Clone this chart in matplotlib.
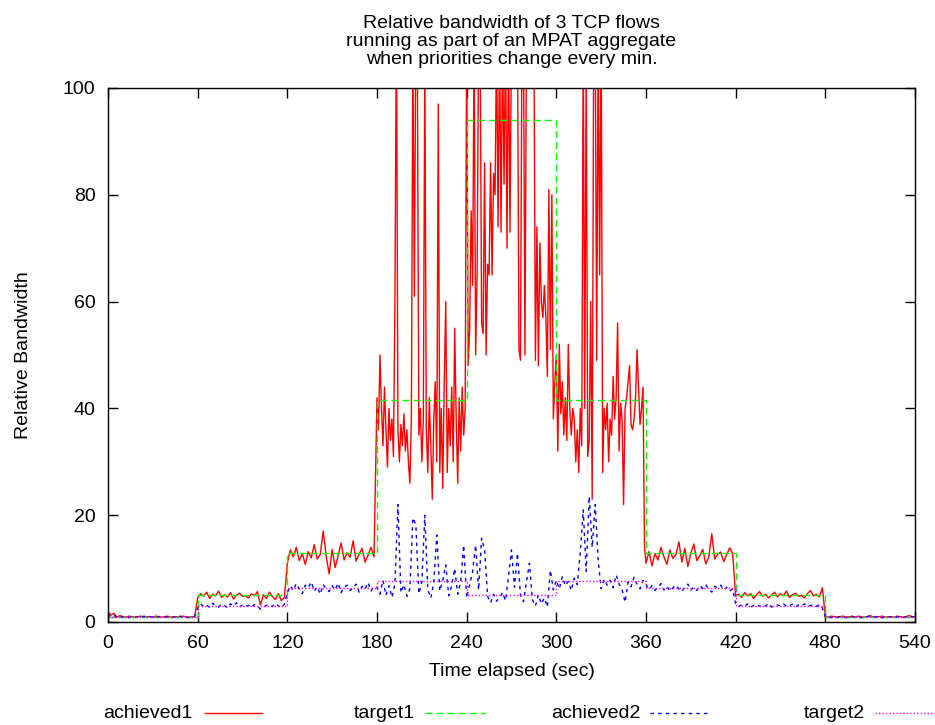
#!/usr/bin/env python3

import numpy as np
import matplotlib
matplotlib.use('Agg')
import matplotlib.pyplot as plt
from matplotlib.lines import Line2D

plt.rcParams['font.family'] = ['Liberation Sans', 'DejaVu Sans']

phase_edges = [0, 60, 120, 180, 240, 300, 360, 420, 480, 540]

# achieved1: one list per 60 s phase; 2 s samples in calm phases, 1 s in the busy middle
ach1_steps = [2, 2, 2, 1, 1, 1, 2, 2, 2]
ach1_phases = [
    [1.9, 1.3, 1.6, 0.9, 1.2, 1.0, 0.9, 1.1, 1.0, 0.9, 1.0, 1.1, 0.9, 1.0, 1.0,
     0.9, 1.1, 1.0, 0.9, 1.0, 1.1, 0.9, 1.0, 1.0, 0.9, 1.1, 1.0, 0.9, 1.0, 1.0],
    [4.5, 5.3, 4.8, 5.6, 4.4, 5.2, 4.9, 5.8, 4.6, 5.1, 4.7, 5.5, 4.3, 5.0, 5.4,
     4.8, 4.9, 4.5, 5.3, 4.9, 5.7, 3.2, 5.1, 4.4, 5.6, 4.8, 4.2, 5.3, 4.0, 4.6],
    [11.0, 13.5, 12.2, 14.0, 11.5, 12.8, 10.8, 13.2, 12.0, 14.5, 11.8, 12.6, 17.0, 12.3, 9.0,
     13.6, 10.2, 12.4, 14.8, 11.6, 13.0, 12.1, 15.2, 11.4, 12.7, 13.8, 11.2, 12.5, 14.0, 12.2],
    [42, 36, 50, 40, 33, 44, 36, 29, 40, 34, 38, 31, 60, 115, 36,
     30, 37, 33, 39, 32, 36, 30, 26, 38, 108, 61, 112, 105, 35, 40,
     30, 38, 105, 36, 28, 42, 33, 23, 38, 45, 30, 97, 28, 40, 25,
     45, 60, 28, 40, 33, 44, 30, 55, 38, 26, 42, 32, 44, 35, 40],
    [110, 48, 55, 77, 63, 110, 50, 65, 110, 110, 56, 54, 86, 50, 67,
     65, 86, 65, 84, 80, 110, 74, 110, 73, 110, 82, 110, 70, 110, 73,
     110, 115, 108, 112, 110, 51, 49, 110, 110, 50, 110, 112, 108, 115, 110,
     110, 49, 74, 48, 71, 60, 57, 63, 57, 46, 81, 51, 80, 38, 45],
    [50, 32, 52, 39, 45, 35, 42, 34, 52, 40, 35, 40, 38, 30, 36,
     28, 40, 33, 110, 40, 105, 31, 34, 60, 23, 110, 112, 49, 110, 65,
     112, 28, 40, 36, 41, 30, 38, 35, 46, 38, 42, 56, 32, 41, 38,
     22, 40, 42, 45, 48, 37, 36, 38, 42, 51, 44, 37, 40, 44, 14],
    [11.0, 13.2, 10.5, 12.8, 11.6, 14.0, 12.2, 10.8, 13.5, 11.9, 12.6, 15.0, 11.2, 13.8, 10.4,
     12.9, 14.6, 11.5, 12.4, 13.6, 10.9, 12.2, 16.5, 11.8, 12.7, 13.1, 11.3, 12.6, 13.9, 12.8],
    [4.8, 5.2, 4.6, 5.5, 4.9, 5.3, 4.4, 5.1, 5.7, 4.8, 5.2, 4.5, 5.0, 5.6, 4.7,
     5.3, 4.9, 5.8, 4.6, 5.1, 5.4, 4.8, 5.0, 4.5, 5.3, 5.9, 4.9, 5.2, 4.7, 6.4],
    [1.0, 0.9, 1.1, 1.0, 0.9, 1.0, 1.1, 0.9, 1.0, 1.0, 0.9, 1.1, 1.0, 0.9, 1.0,
     1.2, 0.9, 1.0, 1.0, 1.1, 0.9, 1.0, 1.0, 0.9, 1.1, 1.0, 0.9, 1.0, 1.2, 1.0, 1.0],
]

# achieved2: 2 s samples throughout
ach2_step = 2
ach2_phases = [
    [1.5, 0.9, 1.2, 0.8, 1.0, 0.9, 1.1, 0.8, 1.0, 0.9, 1.0, 0.8, 1.1, 0.9, 1.0,
     0.9, 0.8, 1.0, 1.1, 0.9, 1.0, 0.8, 0.9, 1.0, 1.1, 0.9, 1.0, 0.8, 0.9, 1.0],
    [2.6, 3.4, 2.9, 3.2, 2.7, 3.5, 3.0, 2.8, 3.3, 3.1, 2.6, 3.4, 3.0, 3.6, 2.8,
     3.2, 2.9, 3.1, 2.7, 3.3, 3.0, 2.4, 2.8, 3.1, 3.2, 2.9, 3.5, 3.0, 2.7, 3.3],
    [5.4, 6.8, 5.9, 7.2, 6.1, 5.3, 6.9, 6.4, 7.5, 5.8, 6.6, 5.2, 7.0, 6.2, 5.7,
     6.8, 6.0, 7.3, 5.5, 6.5, 6.9, 5.9, 6.3, 7.1, 5.6, 6.7, 6.1, 7.4, 5.8, 6.6],
    [6.5, 5.2, 7.8, 5.0, 6.8, 4.6, 7.2, 22.0, 5.5, 7.0, 4.8, 6.2, 19.5, 18.2, 5.3,
     7.5, 20.0, 6.0, 4.5, 7.4, 16.3, 5.8, 7.8, 10.7, 4.9, 6.8, 10.0, 5.2, 7.5, 14.4],
    [4.5, 7.0, 9.5, 14.4, 6.0, 15.7, 13.5, 4.8, 3.6, 5.2, 3.9, 4.6, 5.5, 4.0, 8.5,
     13.5, 6.5, 12.9, 5.0, 3.8, 7.5, 11.0, 4.2, 3.0, 5.1, 3.4, 4.5, 2.8, 9.7, 6.0],
    [7.8, 6.2, 8.5, 6.8, 7.6, 5.9, 8.2, 7.0, 13.0, 21.0, 9.5, 23.5, 14.0, 22.0, 11.5,
     6.2, 8.0, 6.9, 7.8, 6.4, 8.8, 7.1, 6.0, 3.7, 7.5, 6.6, 8.4, 7.0, 6.2, 7.8],
    [7.0, 6.1, 6.8, 5.9, 6.5, 7.2, 6.0, 6.7, 5.8, 6.4, 6.9, 6.2, 5.7, 6.6, 7.1,
     6.0, 6.5, 5.9, 6.8, 6.3, 7.0, 6.1, 5.6, 6.7, 6.4, 6.9, 6.0, 6.5, 5.8, 6.2],
    [3.3, 2.9, 3.2, 3.0, 3.4, 2.8, 3.1, 3.3, 2.9, 3.2, 3.0, 3.5, 2.8, 3.1, 3.2,
     3.0, 3.4, 2.9, 3.1, 3.3, 2.8, 3.2, 3.0, 3.4, 2.9, 3.1, 3.2, 2.9, 3.3, 2.6],
    [0.9, 1.0, 0.8, 1.1, 0.9, 1.0, 0.9, 0.8, 1.0, 1.1, 0.9, 1.0, 0.8, 0.9, 1.0,
     1.1, 0.9, 1.0, 0.9, 0.8, 1.0, 1.0, 0.9, 1.1, 0.9, 1.0, 0.8, 1.0, 1.1, 0.9, 1.0],
]

target1 = [1.0, 5.0, 12.9, 41.5, 94.0, 41.5, 12.9, 5.0, 1.0]
target2 = [0.9, 3.0, 6.3, 7.6, 5.1, 7.6, 6.3, 3.0, 0.9]

xticks = np.arange(0, 541, 60)
yticks = np.arange(0, 101, 20)

t1 = np.concatenate([start + np.arange(len(v)) * dt
                     for start, dt, v in zip(phase_edges, ach1_steps, ach1_phases)])
achieved1 = np.concatenate(ach1_phases)
achieved2 = np.concatenate(ach2_phases)
t2 = np.arange(len(achieved2)) * ach2_step

fig = plt.figure(figsize=(9.35, 7.25), dpi=100)
ax = fig.add_axes([108 / 935, 1 - 622 / 725, (915 - 108) / 935, (622 - 88) / 725])

fs = 14
ax.plot(t1, achieved1, color='#ff0000', lw=1.0)
ax.step(phase_edges, target1 + [target1[-1]], where='post', color='#00ff00',
        lw=1.0, linestyle=(0, (5, 3)))
ax.plot(t2, achieved2, color='#0000ff', lw=1.0, linestyle=(0, (2.5, 3)))
ax.step(phase_edges, target2 + [target2[-1]], where='post', color='#ff00ff',
        lw=1.0, linestyle=(0, (1, 1.5)))

ax.set_xlim(0, 540)
ax.set_ylim(0, 100)
ax.set_xticks(xticks)
ax.set_yticks(yticks)
ax.tick_params(direction='in', length=7, width=1.0, top=True, right=True,
               labelsize=fs, pad=9)
for s in ax.spines.values():
    s.set_linewidth(1.0)

ax.set_xlabel('Time elapsed (sec)', fontsize=fs, labelpad=8)
ax.set_ylabel('Relative Bandwidth', fontsize=fs, labelpad=22)
ax.set_title('Relative bandwidth of 3 TCP flows\n'
             'running as part of an MPAT aggregate\n'
             'when priorities change every min.', fontsize=fs, linespacing=1.1, pad=17)

# gnuplot style key below the plot: label right-justified, then sample line
key = [
    ('achieved1', '#ff0000', '-', 193, 205, 262),
    ('target1', '#00ff00', (0, (5, 3)), 415, 425, 485),
    ('achieved2', '#0000ff', (0, (2.5, 3)), 640, 650, 710),
    ('target2', '#ff00ff', (0, (1, 1.5)), 865, 875, 935),
]
ky = 1 - 713 / 725
for label, col, ls, tx, x0, x1 in key:
    fig.text(tx / 935, ky, label, ha='right', va='center', fontsize=fs)
    fig.add_artist(Line2D([x0 / 935, x1 / 935], [ky, ky], color=col, lw=1.0,
                          linestyle=ls, transform=fig.transFigure))

fig.savefig('out.png', dpi=100)
